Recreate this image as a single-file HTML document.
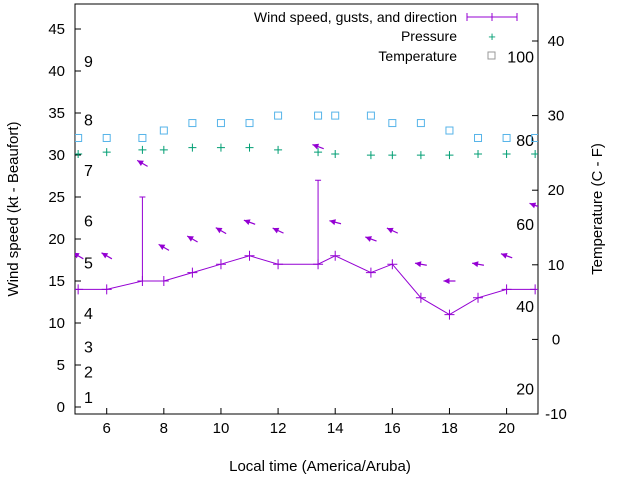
<!DOCTYPE html>
<html><head><meta charset="utf-8"><style>
body{margin:0;background:#fff;}
svg{display:block;font-family:"Liberation Sans",sans-serif;}
</style></head><body>
<svg id="chart" width="640" height="480" viewBox="0 0 640 480" xmlns="http://www.w3.org/2000/svg">
<g id="axes"></g>
<g id="series"></g>
<g id="legend">
 <text x="457" y="22" font-size="14" text-anchor="end">Wind speed, gusts, and direction</text>
 <line x1="467" y1="17" x2="517" y2="17" stroke="#9400d3" stroke-width="1"/>
 <line x1="467" y1="13" x2="467" y2="21" stroke="#9400d3"/>
 <line x1="517" y1="13" x2="517" y2="21" stroke="#9400d3"/>
 <line x1="492" y1="13" x2="492" y2="21" stroke="#9400d3"/>
 <text x="457" y="41" font-size="14" text-anchor="end">Pressure</text>
 <text x="492" y="41" font-size="13" fill="#009e73" text-anchor="middle">+</text>
 <text x="457" y="61" font-size="14" text-anchor="end">Temperature</text>
 <rect x="488" y="52" width="7" height="7" fill="none" stroke="#999"/>
</g>
</svg>
<script>
const hours=[5,6,7.25,8,9,10,11,12,13.4,14,15.25,16,17,18,19,20,21];
const windSpeed=[14,14,15,15,16,17,18,17,17,18,16,17,13,11,13,14,14];
const gustHours=[7.25,13.4];
const gustValues=[25,27];
const arrowHeight=[18,18,29,19,20,21,22,21,31,22,20,21,17,15,17,18,24];
const windAngle=[30,30,30,30,30,30,20,25,20,15,20,25,10,0,10,20,20];
const pressure=[24.85,25.1,25.4,25.4,25.7,25.7,25.7,25.4,25.1,24.85,24.7,24.7,24.7,24.7,24.85,24.85,24.85];
const temperature=[27,27,27,28,29,29,29,30,30,30,30,29,29,28,27,27,27];
const leftTicks=[0,5,10,15,20,25,30,35,40,45];
const rightTicks=[-10,0,10,20,30,40];
const xTicks=[6,8,10,12,14,16,18,20];
const beaufortLabels=["1","2","3","4","5","6","7","8","9"];
const beaufortPos=[1.2,4.2,7.2,11.2,17.2,22.2,28.2,34.2,41.2];
const percentLabels=["100","80","60","40","20"];
const percentPos=[37.9,26.7,15.5,4.5,-6.6];

const L=75,R=538,T=4,B=414;
const X=h=>L+(h-4.89)*(R-L)/(21.1-4.89);
const YL=v=>407-v*8.4;
const YR=v=>414-(v+10)*7.46;
const NS="http://www.w3.org/2000/svg";
function mk(tag,attrs,parent,txt){const e=document.createElementNS(NS,tag);for(const k in attrs)e.setAttribute(k,attrs[k]);if(txt!==undefined)e.textContent=txt;parent.appendChild(e);return e;}
const ax=document.getElementById('axes'),se=document.getElementById('series');

let e=mk('rect',{x:L,y:T,width:R-L,height:B-T,fill:'none',stroke:'#000'},ax);


leftTicks.forEach(v=>{
 let t=mk('line',{x1:L,y1:YL(v),x2:L+6,y2:YL(v),stroke:'#000'},ax);
 
 
 let l=mk('text',{x:L-10,y:YL(v)+5,'font-size':15,'text-anchor':'end'},ax,String(v));
 
 
});
rightTicks.forEach(v=>{
 let t=mk('line',{x1:R-6,y1:YR(v),x2:R,y2:YR(v),stroke:'#000'},ax);
 
 
 let l=mk('text',{x:R+18,y:YR(v)+5,'font-size':15,'text-anchor':'middle'},ax,String(v));
 
 
});
xTicks.forEach(v=>{
 let t=mk('line',{x1:X(v),y1:B,x2:X(v),y2:B-6,stroke:'#000'},ax);
 
 
 let l=mk('text',{x:X(v),y:B+19,'font-size':15,'text-anchor':'middle'},ax,String(v));
 
 
});
beaufortLabels.forEach((s,i)=>{
 let l=mk('text',{x:84,y:YL(beaufortPos[i])+6,'font-size':16},ax,s);
 
 
});
percentLabels.forEach((s,i)=>{
 let l=mk('text',{x:534,y:YR(percentPos[i])+6,'font-size':16,'text-anchor':'end'},ax,s);
 
 
});
e=mk('text',{x:320,y:471,'font-size':15,'text-anchor':'middle'},ax,'Local time (America/Aruba)');


e=mk('text',{x:0,y:0,'font-size':15,'text-anchor':'middle',transform:'translate(18,209) rotate(-90)'},ax,'Wind speed (kt - Beaufort)');


e=mk('text',{x:0,y:0,'font-size':15,'text-anchor':'middle',transform:'translate(602,209) rotate(-90)'},ax,'Temperature (C - F)');



const clip=mk('clipPath',{id:'pc'},se);mk('rect',{x:L,y:T,width:R-L,height:B-T},clip);
const g=mk('g',{'clip-path':'url(#pc)'},se);
e=mk('line',{x1:L,y1:YL(windSpeed[0]),x2:X(hours[0]),y2:YL(windSpeed[0]),stroke:'#9400d3'},g);


e=mk('polyline',{points:hours.map((h,i)=>X(h)+','+YL(windSpeed[i])).join(' '),fill:'none',stroke:'#9400d3'},g);


hours.forEach((h,i)=>{
 let p=mk('path',{d:`M${X(h)-5},${YL(windSpeed[i])}h10M${X(h)},${YL(windSpeed[i])-5}v10`,stroke:'#9400d3'},g);
 
 
});
gustHours.forEach((h,i)=>{
 let idx=hours.indexOf(h);
 let p=mk('path',{d:`M${X(h)},${YL(windSpeed[idx])}V${YL(gustValues[i])}M${X(h)-3},${YL(gustValues[i])}h6`,stroke:'#9400d3',fill:'none'},g);
 
 
});
hours.forEach((h,i)=>{
 const a=windAngle[i]*Math.PI/180,x0=X(h),y0=YL(arrowHeight[i]);
 const dx=Math.cos(a),dy=Math.sin(a);
 const tx=x0+dx*6,ty=y0+dy*6,hx=x0-dx*6,hy=y0-dy*6;
 const px=-dy,py=dx;
 const ar=mk('g',{},g);
 
 
 mk('line',{x1:tx,y1:ty,x2:hx,y2:hy,stroke:'#9400d3','stroke-width':1.2},ar);
 const bx=hx+dx*6,by=hy+dy*6;
 mk('polygon',{points:`${hx},${hy} ${bx+px*3},${by+py*3} ${bx-px*3},${by-py*3}`,fill:'#9400d3'},ar);
});
hours.forEach((h,i)=>{
 let p=mk('path',{d:`M${X(h)-4},${YR(pressure[i])}h8M${X(h)},${YR(pressure[i])-4}v8`,stroke:'#009e73'},g);
 
 
 let r=mk('rect',{x:X(h)-3.5,y:YR(temperature[i])-3.5,width:7,height:7,fill:'none',stroke:'#56b4e9'},g);
 
 
});
</script>
</body></html>
